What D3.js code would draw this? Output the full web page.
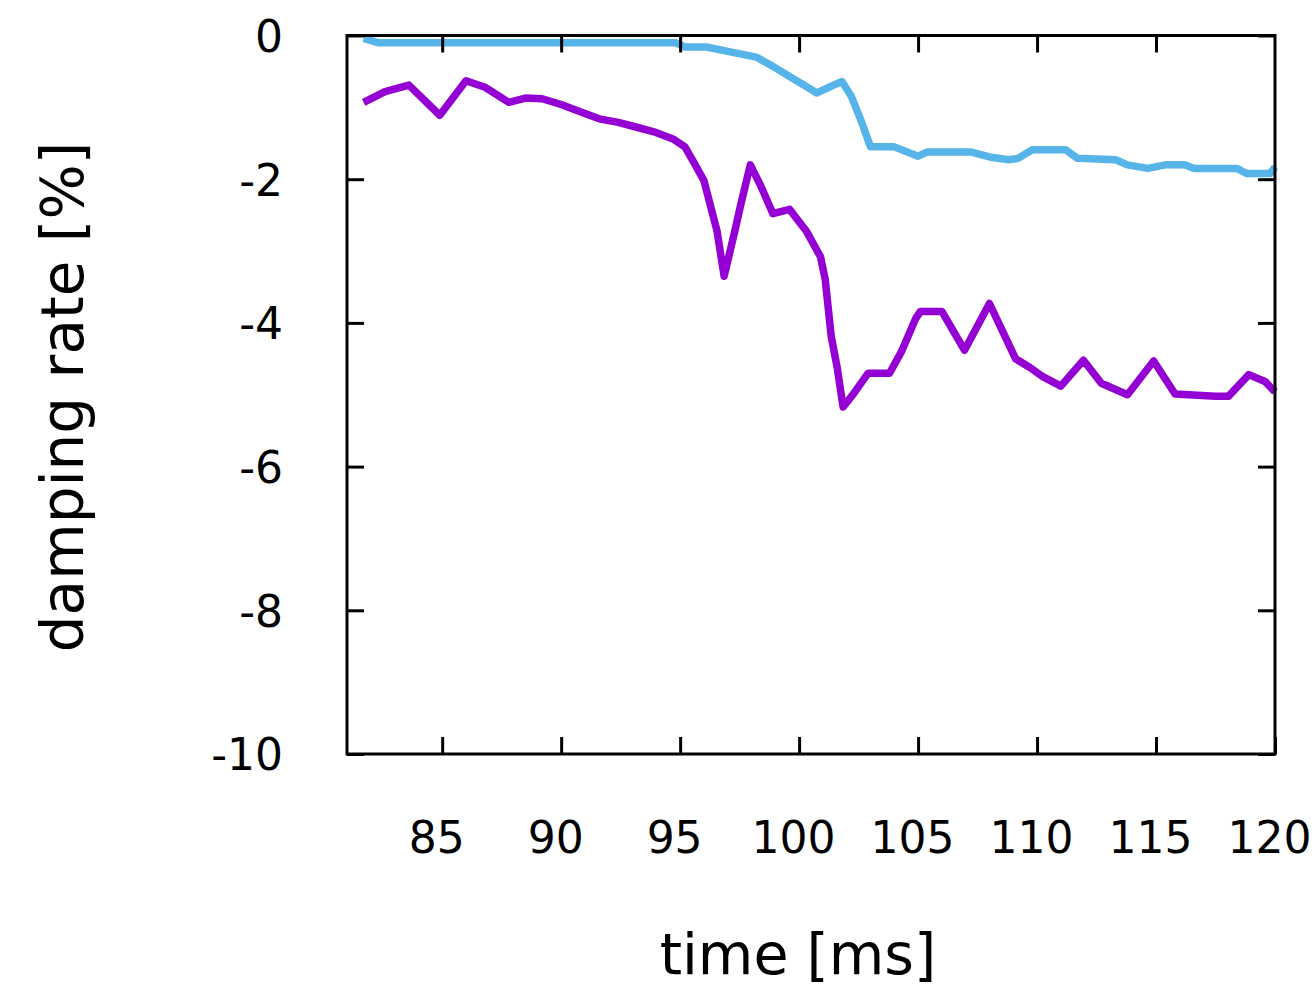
<!DOCTYPE html>
<html><head><meta charset="utf-8">
<script src="https://cdn.jsdelivr.net/npm/d3@7/dist/d3.min.js"></script>
<style>body{margin:0;background:#fff}svg{display:block}text{font-family:"DejaVu Sans",sans-serif;fill:#000}</style>
</head><body>
<svg id="c" width="1316" height="988"></svg>
<script>
// data: [time ms, damping rate %]
const purpleSeries = [[81.7,-0.93],[82.6,-0.78],[83.6,-0.69],[84.9,-1.11],[86.0,-0.63],[86.8,-0.72],[87.8,-0.93],[88.5,-0.87],[89.2,-0.88],[90.0,-0.96],[90.8,-1.06],[91.6,-1.16],[92.4,-1.21],[93.1,-1.27],[93.9,-1.34],[94.7,-1.44],[95.2,-1.55],[95.6,-1.78],[96.0,-2.02],[96.3,-2.40],[96.55,-2.72],[96.85,-3.35],[97.3,-2.72],[97.55,-2.35],[97.95,-1.80],[98.4,-2.10],[98.9,-2.48],[99.6,-2.42],[100.3,-2.72],[100.9,-3.08],[101.1,-3.40],[101.35,-4.19],[101.6,-4.62],[101.85,-5.17],[102.3,-4.98],[102.9,-4.70],[103.8,-4.70],[104.3,-4.40],[104.9,-3.94],[105.1,-3.84],[106.0,-3.84],[106.95,-4.38],[108.0,-3.73],[109.1,-4.50],[109.7,-4.62],[110.2,-4.74],[111.0,-4.88],[111.95,-4.52],[112.7,-4.84],[113.8,-5.00],[114.9,-4.53],[115.8,-4.99],[117.5,-5.02],[118.05,-5.02],[118.9,-4.72],[119.6,-4.82],[120.0,-4.96]];
const blueSeries = [[81.7,-0.04],[82.3,-0.10],[94.8,-0.10],[95.2,-0.16],[96.1,-0.16],[97.0,-0.22],[98.2,-0.30],[98.9,-0.43],[99.6,-0.57],[100.3,-0.71],[100.75,-0.80],[101.45,-0.69],[101.8,-0.64],[102.2,-0.85],[102.6,-1.18],[103.0,-1.55],[104.0,-1.55],[105.0,-1.68],[105.4,-1.62],[107.2,-1.62],[108.0,-1.69],[108.8,-1.73],[109.2,-1.71],[109.8,-1.59],[111.2,-1.59],[111.7,-1.71],[113.3,-1.73],[113.8,-1.80],[114.65,-1.85],[115.4,-1.80],[116.2,-1.80],[116.6,-1.85],[118.4,-1.85],[118.8,-1.92],[119.8,-1.92],[120.0,-1.83]];
const xTicks = [85,90,95,100,105,110,115,120];
const yTicks = [0,-2,-4,-6,-8,-10];
const xLabel = "time [ms]";
const yLabel = "damping rate [%]";

const svg = d3.select("#c");
const L=347, R=1275, T=35.5, B=754;
const x = d3.scaleLinear().domain([81,120]).range([L,R]);
const y = d3.scaleLinear().domain([-10,0]).range([B,T]);

const line = d3.line().x(d=>x(d[0])).y(d=>y(d[1]));
const g = svg.append("g");
g.append("path").datum(purpleSeries).attr("d",line).attr("fill","none").attr("stroke","#9400d3").attr("stroke-width",7.5).attr("stroke-linejoin","round");
g.append("path").datum(blueSeries).attr("d",line).attr("fill","none").attr("stroke","#56b4e9").attr("stroke-width",7.5).attr("stroke-linejoin","round");

const TL=17;
const fmt = d => String(d);
function style(sel){
  sel.select(".domain").remove();
  sel.selectAll(".tick line").attr("stroke","#000").attr("stroke-width",3);
  sel.selectAll(".tick text").style("font-size","44px").style("font-family","'DejaVu Sans',sans-serif");
}
// bottom (ticks inward)
svg.append("g").attr("transform",`translate(0,${B})`)
  .call(d3.axisBottom(x).tickValues(xTicks).tickSize(-TL).tickPadding(0).tickFormat(fmt))
  .call(style)
  .selectAll(".tick text").attr("y",99).attr("dy",null).attr("dx",-6);
// top mirror
svg.append("g").attr("transform",`translate(0,${T})`)
  .call(d3.axisTop(x).tickValues(xTicks.slice(0,-1)).tickSize(-TL).tickFormat(""))
  .call(style);
// left
svg.append("g").attr("transform",`translate(${L},0)`)
  .call(d3.axisLeft(y).tickValues(yTicks).tickSize(-TL).tickFormat(fmt))
  .call(style)
  .selectAll(".tick text").attr("x",-64).attr("dy","0.36em");
// right mirror
svg.append("g").attr("transform",`translate(${R},0)`)
  .call(d3.axisRight(y).tickValues(yTicks).tickSize(-TL).tickFormat(""))
  .call(style);

// frame
svg.append("rect").attr("x",L).attr("y",T).attr("width",R-L).attr("height",B-T)
  .attr("fill","none").attr("stroke","#000").attr("stroke-width",3);

svg.append("text").attr("x",798).attr("y",974).attr("text-anchor","middle").style("font-size","57px").text(xLabel);
svg.append("text").attr("transform","translate(83,397) rotate(-90)").attr("text-anchor","middle").style("font-size","58px").text(yLabel);
</script>
</body></html>
